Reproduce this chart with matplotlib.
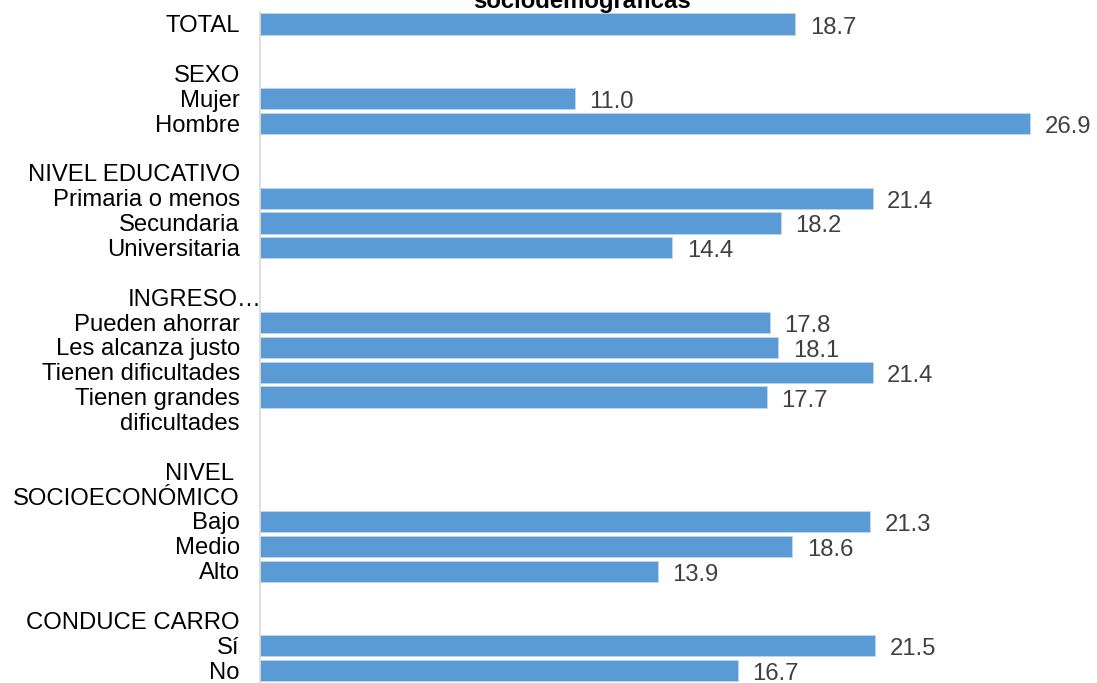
import matplotlib
matplotlib.use("Agg")
import matplotlib.pyplot as plt
from matplotlib.transforms import offset_copy
import numpy as np

plt.rcParams['font.family'] = ['Liberation Sans', 'DejaVu Sans']

# Row labels (one entry per row of the category axis; '' = empty row)
row_labels = ['TOTAL', '', 'SEXO', 'Mujer', 'Hombre', '',
              'NIVEL EDUCATIVO', 'Primaria o menos', 'Secundaria', 'Universitaria', '',
              'INGRESO…', 'Pueden ahorrar', 'Les alcanza justo', 'Tienen dificultades',
              'Tienen grandes', 'dificultades', '',
              'NIVEL ', 'SOCIOECONÓMICO', 'Bajo', 'Medio', 'Alto', '',
              'CONDUCE CARRO', 'Sí', 'No']
# Values per row (None = no bar)
row_values = [18.7, None, None, 11.0, 26.9, None,
              None, 21.4, 18.2, 14.4, None,
              None, 17.8, 18.1, 21.4,
              17.7, None, None,
              None, None, 21.3, 18.6, 13.9, None,
              None, 21.5, 16.7]

title = 'sociodemográficas'

W, H = 1097, 683
fig = plt.figure(figsize=(W / 100, H / 100), dpi=100)
ax_left, ax_top, ax_bottom = 260, 11.6, 683
xmax = 29.0
px_per_unit = (1031 - 261) / 26.9
ax_w = xmax * px_per_unit
ax = fig.add_axes([ax_left / W, 1 - ax_bottom / H, ax_w / W, (ax_bottom - ax_top) / H])

n = len(row_labels)
ys = np.arange(n)
bar_y = [y for y, v in zip(ys, row_values) if v is not None]
bar_v = [v for v in row_values if v is not None]
ax.barh(bar_y, bar_v, height=0.85, color='#5B9BD5', edgecolor='#BDD7EE', linewidth=0.6)

ax.set_xlim(0, xmax)
ax.set_ylim(n - 0.5, -0.5)
ax.set_xticks([])
ax.set_yticks([])
for s in ['top', 'right', 'bottom']:
    ax.spines[s].set_visible(False)
ax.spines['left'].set_color('#D9D9D9')
ax.spines['left'].set_linewidth(1.2)

fs = 17.2
lab_trans = matplotlib.transforms.blended_transform_factory(ax.transAxes, ax.transData)
for y, lab in zip(ys, row_labels):
    if not lab:
        continue
    dx = -14.5
    if lab.startswith('INGRESO'):
        dx = 1.5
    t = offset_copy(lab_trans, fig=fig, x=dx, y=-1.5, units='points')
    ax.text(0, y, lab, transform=t, ha='right', va='center', fontsize=fs, color='black')

for y, v in zip(bar_y, bar_v):
    ax.annotate(f'{v:.1f}', xy=(v, y), xytext=(10.5, -2.5), textcoords='offset points',
                ha='left', va='center', fontsize=fs, color='#404040')

fig.text(582 / W, 1 - 8 / H, title, ha='center', va='baseline', fontsize=fs,
         fontweight='bold', color='black')

fig.savefig('out.png', dpi=100)
